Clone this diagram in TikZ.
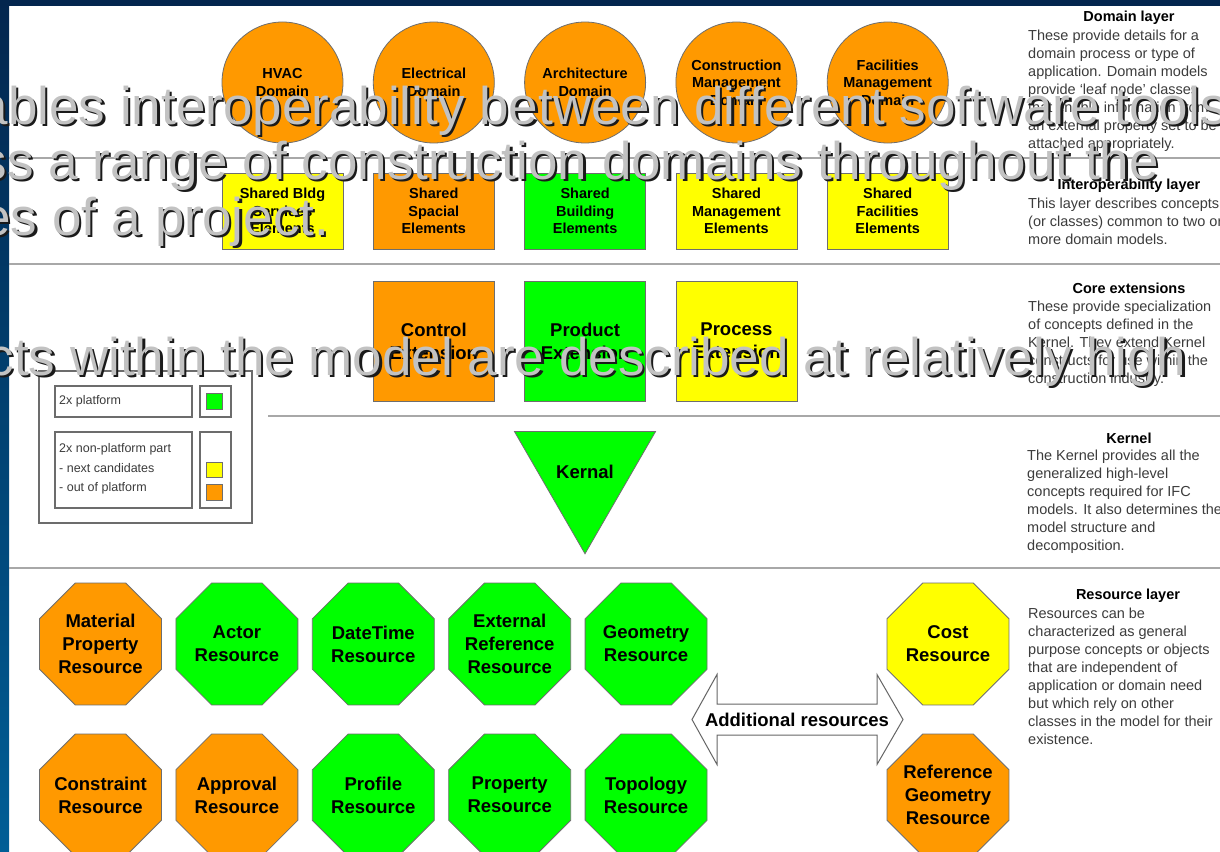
\documentclass[tikz,border=0pt]{standalone}
\usepackage{fontspec}
\setmainfont{Liberation Sans}
\usetikzlibrary{shapes.geometric}
\definecolor{ifcorange}{HTML}{FF9900}
\definecolor{ifcgreen}{HTML}{00FF00}
\definecolor{ifcyellow}{HTML}{FFFF00}
\definecolor{edgecol}{HTML}{6E6E6E}
\definecolor{sepcol}{HTML}{A8A8A8}
\definecolor{navytop}{HTML}{03264E}
\definecolor{navybot}{HTML}{005E96}
\definecolor{bodytext}{HTML}{3C3C3C}
\definecolor{overlaygray}{HTML}{C2C2C2}
\definecolor{shadowcol}{HTML}{1A1A1A}
\begin{document}
\begin{tikzpicture}[x=1pt,y=-1pt,
  lbl/.style={font=\fontsize{14.5}{17.5}\selectfont\bfseries, align=center},
  dom/.style={circle, draw=edgecol, fill=ifcorange, line width=0.8pt, minimum size=121pt, inner sep=0pt, lbl},
  ibox/.style={rectangle, draw=edgecol, line width=0.8pt, minimum width=121pt, minimum height=76pt, inner sep=0pt, lbl},
  ebox/.style={rectangle, draw=edgecol, line width=0.8pt, minimum width=121pt, minimum height=120pt, inner sep=0pt, align=center, font=\fontsize{18.5}{23}\selectfont\bfseries},
  oct/.style={regular polygon, regular polygon sides=8, draw=edgecol, line width=0.8pt, minimum size=132pt, inner sep=0pt},
  octtxt/.style={inner sep=0pt, align=center, font=\fontsize{18.5}{23}\selectfont\bfseries},
  sepline/.style={draw=sepcol, line width=2pt},
  legbox/.style={draw=gray!85!black, line width=1.2pt},
  legsq/.style={draw=edgecol, line width=0.8pt},
  legtext/.style={anchor=west, inner sep=0pt, text=bodytext, font=\fontsize{12.5}{15}\selectfont},
  sidetitle/.style={anchor=base, inner sep=0pt, font=\fontsize{14.5}{18}\selectfont\bfseries},
  sidetext/.style={anchor=north west, inner sep=0pt, align=left, text=bodytext, font=\fontsize{14.5}{18}\selectfont},
  ovtext/.style={anchor=base west, inner sep=0pt, font=\fontsize{53}{56}\selectfont, text=overlaygray},
  ovshadow/.style={anchor=base west, inner sep=0pt, font=\fontsize{53}{56}\selectfont, text=shadowcol}
]
\useasboundingbox (0,0) rectangle (1220,851);
% slide background
\fill[white] (0,0) rectangle (1220,851);
\fill[navytop] (0,0) rectangle (1220,6);
\shade[top color=navytop, bottom color=navybot] (0,0) rectangle (9,851);

% separators
\draw[sepline] (9,158) -- (1220,158);
\draw[sepline] (9,264) -- (1220,264);
\draw[sepline] (268,416) -- (1220,416);
\draw[sepline] (9,568) -- (1220,568);

% domain layer
\node[dom] (hvac) at (282.5,82.5) {HVAC\\Domain};
\node[dom] (elec) at (433.8,82.5) {Electrical\\Domain};
\node[dom] (arch) at (585.1,82.5) {Architecture\\Domain};
\node[dom] (cons) at (736.4,82.5) {Construction\\Management\\Domain};
\node[dom] (faci) at (887.7,82.5) {Facilities\\Management\\Domain};

% interoperability layer
\node[ibox, fill=ifcyellow] (sbs) at (282.5,211) {Shared Bldg\\Services\\Elements};
\node[ibox, fill=ifcorange] (ssp) at (433.8,211) {Shared\\Spacial\\Elements};
\node[ibox, fill=ifcgreen] (sbe) at (585.1,211) {Shared\\Building\\Elements};
\node[ibox, fill=ifcyellow] (sme) at (736.4,211) {Shared\\Management\\Elements};
\node[ibox, fill=ifcyellow] (sfe) at (887.7,211) {Shared\\Facilities\\Elements};

% core extensions
\node[ebox, fill=ifcorange] (ctrl) at (433.8,341) {Control\\Extension};
\node[ebox, fill=ifcgreen] (prod) at (585.1,341) {Product\\Extension};
\node[ebox, fill=ifcyellow] (proc) at (736.4,341) {Process\\Extension};

% kernel
\node[regular polygon, regular polygon sides=3, shape border rotate=180, draw=edgecol, line width=0.8pt, fill=ifcgreen, minimum size=161.7pt, inner sep=0pt, font=\fontsize{18.5}{23}\selectfont\bfseries] (kern) at (585,472.3) {Kernal};

% legend
\draw[legbox] (39,371) rectangle (252,523);
\draw[legbox] (55,386) rectangle (192,417);
\draw[legbox] (200,386) rectangle (231,417);
\draw[legsq, fill=ifcgreen] (206,393) rectangle (222,409);
\draw[legbox] (55,432) rectangle (192,508);
\draw[legbox] (200,432) rectangle (231,508);
\draw[legsq, fill=ifcyellow] (206,462) rectangle (222,477);
\draw[legsq, fill=ifcorange] (206,484) rectangle (222,500);
\node[legtext] (lg1) at (59,401) {2x platform};
\node[legtext] (lg2) at (59,449) {2x non-platform part};
\node[legtext] (lg3) at (59,468) {- next candidates};
\node[legtext] (lg4) at (59,488) {- out of platform};

% resource layer
\node[oct, fill=ifcorange, label={[octtxt]center:Material\\Property\\Resource}] (mat) at (100.5,644) {};
\node[oct, fill=ifcgreen, label={[octtxt]center:Actor\\Resource}] (act) at (236.9,644) {};
\node[oct, fill=ifcgreen, label={[octtxt]center:DateTime\\Resource}] (dt) at (373.3,644) {};
\node[oct, fill=ifcgreen, label={[octtxt]center:External\\Reference\\Resource}] (ext) at (509.7,644) {};
\node[oct, fill=ifcgreen, label={[octtxt]center:Geometry\\Resource}] (geo) at (646.1,644) {};
\node[oct, fill=ifcorange, label={[octtxt]center:Constraint\\Resource}] (cst) at (100.5,795) {};
\node[oct, fill=ifcorange, label={[octtxt]center:Approval\\Resource}] (apr) at (236.9,795) {};
\node[oct, fill=ifcgreen, label={[octtxt]center:Profile\\Resource}] (prf) at (373.3,795) {};
\node[oct, fill=ifcgreen, label={[octtxt]center:Property\\Resource}] (prp) at (509.7,795) {};
\node[oct, fill=ifcgreen, label={[octtxt]center:Topology\\Resource}] (top) at (646.1,795) {};
\node[oct, fill=ifcyellow, label={[octtxt]center:Cost\\Resource}] (cost) at (948,644) {};
\node[oct, fill=ifcorange, label={[octtxt]center:Reference\\Geometry\\Resource}] (refg) at (948,795) {};

% additional resources double arrow
\draw[draw=gray!80!black, line width=1pt, fill=white]
  (692,719.5) -- (717,674.5) -- (717,704) -- (877,704) -- (877,674.5) -- (903,719.5)
  -- (877,764.5) -- (877,735) -- (717,735) -- (717,764.5) -- cycle;
\node[font=\fontsize{18.5}{23}\selectfont\bfseries, inner sep=0pt] (addres) at (797,719.5) {Additional resources};

% side descriptions
\node[sidetitle] (t1) at (1129,22) {Domain layer};
\node[sidetext] (d1) at (1028,29.5) {These provide details for a\\domain process or type of\\application. Domain models\\provide ‘leaf node’ classes\\that enable information from\\an external property set to be\\attached appropriately.};
\node[sidetitle] (t2) at (1129,189) {Interoperability layer};
\node[sidetext] (d2) at (1028,197.5) {This layer describes concepts\\(or classes) common to two or\\more domain models.};
\node[sidetitle] (t3) at (1129,293) {Core extensions};
\node[sidetext] (d3) at (1028,301) {These provide specialization\\of concepts defined in the\\Kernel. They extend Kernel\\constructs for use within the\\construction industry.};
\node[sidetitle] (t4) at (1129,443) {Kernel};
\node[sidetext] (d4) at (1027,450) {The Kernel provides all the\\generalized high-level\\concepts required for IFC\\models. It also determines the\\model structure and\\decomposition.};
\node[sidetitle] (t5) at (1128,599) {Resource layer};
\node[sidetext] (d5) at (1028,607.5) {Resources can be\\characterized as general\\purpose concepts or objects\\that are independent of\\application or domain need\\but which rely on other\\classes in the model for their\\existence.};

% overlaid slide text
\begin{scope}
\clip (0,0) rectangle (1220,851);
\node[ovshadow] (o1s) at (-19.3,126.7) {ables interoperability between different software tools};
\node[ovtext] (o1) at (-21.5,124.5) {ables interoperability between different software tools};
\node[ovshadow] (o2s) at (-17.5,181.7) {ss a range of construction domains throughout the};
\node[ovtext] (o2) at (-19.7,179.5) {ss a range of construction domains throughout the};
\node[ovshadow] (o3s) at (-16.5,237.7) {es of a project.};
\node[ovtext] (o3) at (-18.7,235.5) {es of a project.};
\node[ovshadow] (o4s) at (-10.3,377.7) {cts within the model are described at relatively high};
\node[ovtext] (o4) at (-12.5,375.5) {cts within the model are described at relatively high};
\end{scope}
\end{tikzpicture}
\end{document}
